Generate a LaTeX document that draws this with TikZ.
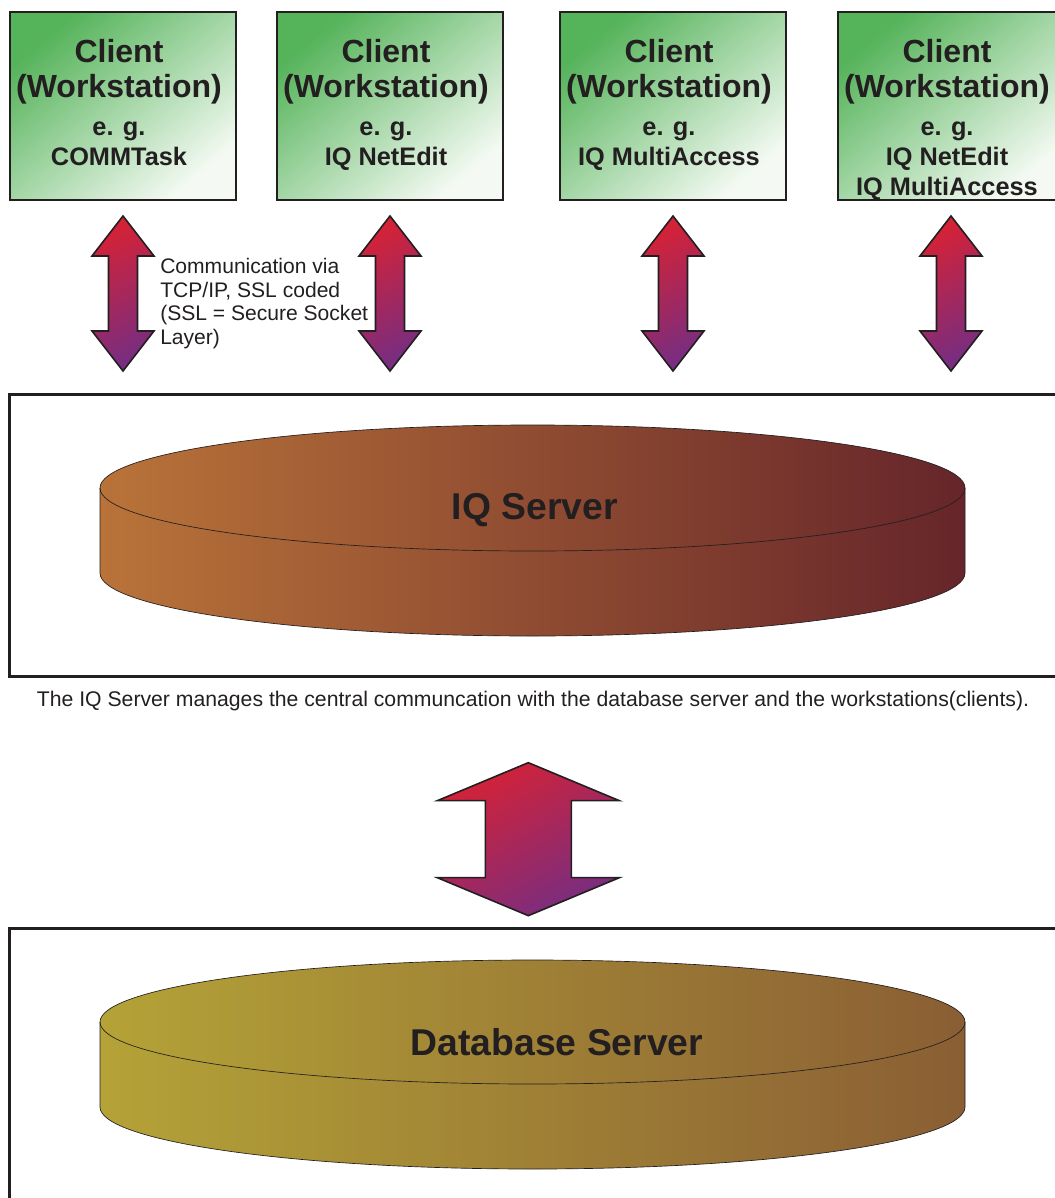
\documentclass[tikz,border=0pt]{standalone}
\usepackage{fontspec}
\setmainfont{Liberation Sans}
\usetikzlibrary{calc,positioning}

\definecolor{inkline}{HTML}{231F20}
\definecolor{clgreen}{HTML}{55B35A}
\definecolor{clwhite}{HTML}{F4FAF3}
\definecolor{arrred}{HTML}{D42237}
\definecolor{arrpurple}{HTML}{782D80}
\definecolor{srvleft}{HTML}{B97339}
\definecolor{srvright}{HTML}{66252A}
\definecolor{dbleft}{HTML}{B4A337}
\definecolor{dbright}{HTML}{8A5E34}

\newcommand{\clbig}{\fontsize{24}{27}\selectfont}
\newcommand{\clsmall}{\fontsize{19}{22.5}\selectfont}

% double arrow: #1 upper tip, #2 length, #3 half head, #4 half shaft, #5 head length
\newcommand{\twoway}[5]{%
  \path[Twoway] (#1) -- ++(-#3,#5) -- ++({#3-#4},0) -- ++(0,{#2-2*#5})
    -- ++({#4-#3},0) -- ++(#3,#5) -- ++(#3,-#5) -- ++({#4-#3},0)
    -- ++(0,{2*#5-#2}) -- ++({#3-#4},0) -- cycle;}

% disc: #1 centre of top, #2 x radius, #3 y radius, #4 height, #5/#6 colours
\newcommand{\disc}[6]{%
  \path[draw=inkline, line width=0.5pt, left color=#5, right color=#6]
    ($(#1)+(-#2,0)$) -- ++(0,#4) arc[start angle=180, end angle=0, x radius=#2, y radius=#3]
    -- ++(0,-#4) arc[start angle=0, end angle=-180, x radius=#2, y radius=#3] -- cycle;
  \draw[inkline, line width=0.5pt] ($(#1)+(-#2,0)$) arc[start angle=180, end angle=0, x radius=#2, y radius=#3];}

\begin{document}
\begin{tikzpicture}
  [
    x=0.75pt, y=-0.75pt,
    Client/.style={rectangle, draw=inkline, line width=1.5pt, top color=clgreen, bottom color=clwhite, shading angle=40, minimum width=169.5pt, minimum height=141pt, inner sep=0pt},
    ClientText/.style={anchor=north, align=center, inner sep=0pt, text=inkline, font=\bfseries\clsmall},
    Frame/.style={rectangle, draw=inkline, line width=2pt, anchor=north west, inner sep=0pt},
    Twoway/.style={draw=inkline, line width=1.2pt, line join=miter, top color=arrred, bottom color=arrpurple, shading angle=30},
    Note/.style={align=left, anchor=north west, inner sep=0pt, text=inkline, font=\fontsize{15.8}{17.8}\selectfont},
    Title/.style={text=inkline, font=\fontsize{28}{32}\selectfont\bfseries, inner sep=0pt}
  ]
  \useasboundingbox (0,0) rectangle (1055,1198);
  \clip (0,0) rectangle (1055,1198);

  % Clients
  \node[Client] (c1) at (123,106) {};
  \node[Client] (c2) at (390,106) {};
  \node[Client] (c3) at (673,106) {};
  \node[Client] (c4) at (951,106) {};

  \node[ClientText] (t1) at ($(c1.north)+(-4,28)$) {\clbig Client\\[3.75pt]\clbig (Workstation)\\[6pt]e. g.\\COMMTask};
  \node[ClientText] (t2) at ($(c2.north)+(-4,28)$) {\clbig Client\\[3.75pt]\clbig (Workstation)\\[6pt]e. g.\\IQ NetEdit};
  \node[ClientText] (t3) at ($(c3.north)+(-4,28)$) {\clbig Client\\[3.75pt]\clbig (Workstation)\\[6pt]e. g.\\IQ MultiAccess};
  \node[ClientText] (t4) at ($(c4.north)+(-4,28)$) {\clbig Client\\[3.75pt]\clbig (Workstation)\\[6pt]e. g.\\IQ NetEdit\\IQ MultiAccess};

  % Frames
  \node[Frame, minimum width=796.5pt, minimum height=211.5pt] (srv) at (8,393) {};
  \node[Frame, minimum width=796.5pt, minimum height=240pt] (db) at (8,927) {};

  % Arrows
  \foreach \c in {c1,c2,c3,c4}{
    \coordinate (\c tip) at ($(\c.south)+(0,15)$);
    \twoway{\c tip}{155}{31}{14.5}{40}
  }
  \coordinate (midtip) at ($(srv.south)+(-12,85)$);
  \twoway{midtip}{153}{91}{43}{38}

  \node[Note] (via) at (160,258) {Communication via\\TCP/IP, SSL coded\\(SSL = Secure Socket\\Layer)};

  % Servers
  \disc{532.5,488}{432.5}{63}{85}{srvleft}{srvright}
  \node[Title] (srvname) at (535,510) {IQ Server};
  \node[text=inkline, font=\fontsize{15.9}{18}\selectfont, inner sep=0pt] (cap) at (533,701) {The IQ Server manages the central communcation with the database server and the workstations(clients).};

  \disc{532.5,1022}{432.5}{62}{85}{dbleft}{dbright}
  \node[Title] (dbname) at (557,1042) {Database Server};
\end{tikzpicture}
\end{document}
